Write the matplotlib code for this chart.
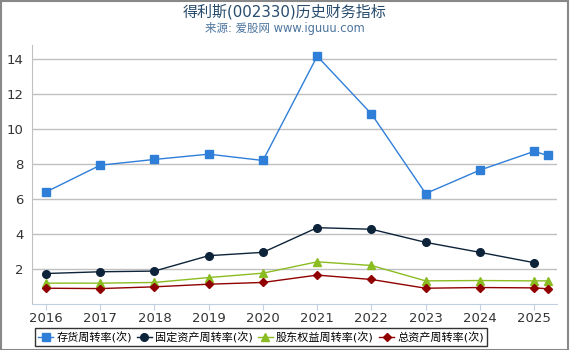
import matplotlib
matplotlib.use('Agg')
import matplotlib.pyplot as plt
from matplotlib.ticker import FixedLocator

plt.rcParams['font.family'] = ['DejaVu Sans', 'Noto Sans CJK SC']

# data
years = [2016, 2017, 2018, 2019, 2020, 2021, 2022, 2023, 2024, 2025]
x_main = [2016, 2017, 2018, 2019, 2020, 2021, 2022, 2023, 2024, 2025]
x_ext = x_main + [2025.25]

inventory = [6.41, 7.94, 8.27, 8.57, 8.21, 14.17, 10.87, 6.32, 7.66, 8.73, 8.50]
fixed_assets = [1.75, 1.85, 1.89, 2.77, 2.96, 4.37, 4.28, 3.53, 2.96, 2.37]
equity = [1.20, 1.20, 1.24, 1.52, 1.77, 2.42, 2.21, 1.33, 1.35, 1.33, 1.33]
total_assets = [0.91, 0.89, 0.99, 1.14, 1.24, 1.66, 1.41, 0.91, 0.95, 0.93, 0.88]

labels = ['存货周转率(次)', '固定资产周转率(次)', '股东权益周转率(次)', '总资产周转率(次)']
colors = ['#2f7ed8', '#0d233a', '#8bbc21', '#910000']

fig = plt.figure(figsize=(5.7, 3.5), dpi=100)
ax = fig.add_axes([0.056, 0.131, 0.922, 0.74])

ax.plot(x_ext, inventory, color=colors[0], marker='s', markersize=5.5, lw=1, label=labels[0])
ax.plot(x_main, fixed_assets, color=colors[1], marker='o', markersize=5.5, lw=1, label=labels[1])
ax.plot(x_ext, equity, color=colors[2], marker='^', markersize=6, lw=1, label=labels[2])
ax.plot(x_ext, total_assets, color=colors[3], marker='D', markersize=4, lw=1, label=labels[3])

ax.set_xlim(2015.74, 2025.43)
ax.set_ylim(0, 14.8)
ax.yaxis.set_major_locator(FixedLocator([2, 4, 6, 8, 10, 12, 14]))
ax.set_xticks(years)
ax.set_xticklabels([str(y) for y in years])
ax.grid(axis='y', color='#c0c0c0', lw=1)
ax.set_axisbelow(True)

for s in ['top', 'right']:
    ax.spines[s].set_visible(False)
ax.spines['left'].set_color('#c0c0c0')
ax.spines['bottom'].set_color('#c0d0e0')
ax.tick_params(axis='y', length=0, labelsize=9.5, labelcolor='#333333', pad=6)
ax.tick_params(axis='x', length=4, color='#c0d0e0', labelsize=9.5, labelcolor='#333333', pad=2)

fig.text(0.5, 0.967, '得利斯(002330)历史财务指标', ha='center', va='center', fontsize=10.8, color='#274b6d')
fig.text(0.5, 0.918, '来源: 爱股网 www.iguuu.com', ha='center', va='center', fontsize=8.3, color='#4d759e')

leg = fig.legend(loc='center', bbox_to_anchor=(0.458, 0.036), ncol=4, fontsize=8,
                 frameon=True, fancybox=False, edgecolor='black', handlelength=1.3,
                 handletextpad=0.3, columnspacing=0.5, borderpad=0.3, borderaxespad=0)
leg.get_frame().set_linewidth(1)

# outer gray border
fig.patches.append(plt.Rectangle((0.001, 0.001), 0.996, 0.997, transform=fig.transFigure,
                                 fill=False, edgecolor='#888888', lw=1.5))

fig.savefig('out.png', dpi=100)
